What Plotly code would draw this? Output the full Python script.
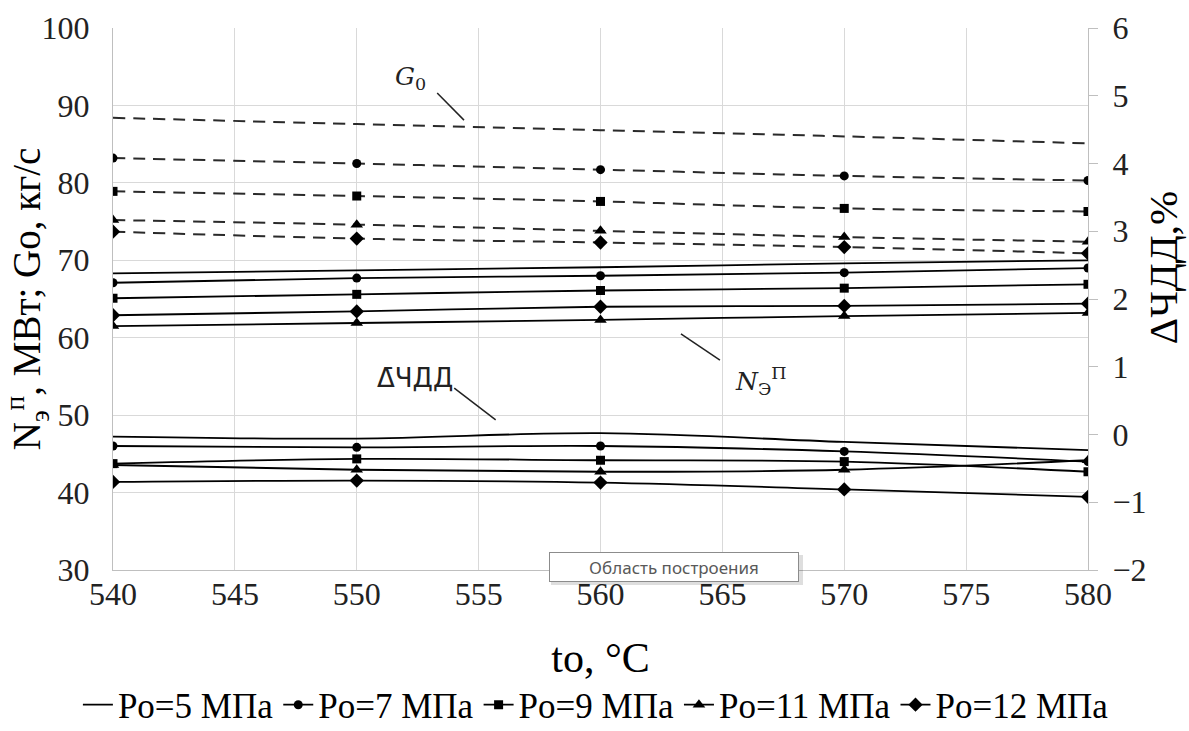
import plotly.graph_objects as go

t = [540, 550, 560, 570, 580]
pressures = ["Po=5 МПа", "Po=7 МПа", "Po=9 МПа", "Po=11 МПа", "Po=12 МПа"]

# Flow rate G0, kg/s (left axis, dashed)
g0_p5 = [88.4, 87.6, 86.8, 86.0, 85.1]
g0_p7 = [83.2, 82.5, 81.7, 80.9, 80.3]
g0_p9 = [78.9, 78.3, 77.6, 76.7, 76.3]
g0_p11 = [75.2, 74.6, 73.8, 73.0, 72.4]
g0_p12 = [73.7, 72.8, 72.3, 71.7, 70.9]

# Power N, MW (left axis, solid)
n_p5 = [68.3, 68.7, 69.1, 69.6, 70.0]
n_p7 = [67.1, 67.7, 68.0, 68.4, 69.0]
n_p9 = [65.1, 65.6, 66.1, 66.4, 66.9]
n_p11 = [61.5, 61.9, 62.3, 62.8, 63.2]
n_p12 = [62.9, 63.4, 64.0, 64.1, 64.4]

# Delta NPV, % (right axis, solid)
d_p5 = [-0.03, -0.06, 0.02, -0.11, -0.23]
d_p7 = [-0.17, -0.19, -0.17, -0.25, -0.40]
d_p9 = [-0.43, -0.36, -0.38, -0.40, -0.55]
d_p11 = [-0.45, -0.52, -0.55, -0.52, -0.38]
d_p12 = [-0.70, -0.68, -0.71, -0.81, -0.92]

g0_all = [g0_p5, g0_p7, g0_p9, g0_p11, g0_p12]
n_all = [n_p5, n_p7, n_p9, n_p11, n_p12]
d_all = [d_p5, d_p7, d_p9, d_p11, d_p12]

symbols = [None, "circle", "square", "triangle-up", "diamond"]
msizes = [0, 9, 9, 11, 11]

serif = "Liberation Serif"

fig = go.Figure()
for i, name in enumerate(pressures):
    mode = "lines" if symbols[i] is None else "lines+markers"
    mk = dict(color="black", size=msizes[i], symbol=symbols[i] or "circle")
    fig.add_trace(go.Scatter(x=t, y=n_all[i], name=name, legendgroup=name, mode=mode,
                             line=dict(color="black", width=1.8, shape="spline"), marker=mk,
                             showlegend=True))
    fig.add_trace(go.Scatter(x=t, y=g0_all[i], name=name, legendgroup=name, mode=mode,
                             line=dict(color="#2a2a2a", width=2, dash="12px,8px", shape="spline"),
                             marker=mk, showlegend=False))
    fig.add_trace(go.Scatter(x=t, y=d_all[i], name=name, legendgroup=name, mode=mode, yaxis="y2",
                             line=dict(color="black", width=1.8, shape="spline"), marker=mk,
                             showlegend=False))

axis_common = dict(showline=True, linecolor="#bfbfbf", linewidth=1, zeroline=False)
tickf = dict(family=serif, size=32, color="#222222")

fig.update_layout(
    width=1189, height=731,
    margin=dict(l=113, r=101, t=28, b=161, autoexpand=False),
    plot_bgcolor="white", paper_bgcolor="white",
    font=dict(family=serif, color="black", size=32),
    xaxis=dict(range=[540, 580], tick0=540, dtick=5, showgrid=True, gridcolor="#d9d9d9",
               ticks="", tickfont=tickf, ticklabelstandoff=-4,
               title=dict(text="tо, °C", font=dict(family=serif, size=42, color="black"), standoff=31),
               **axis_common),
    yaxis=dict(range=[30, 100], tick0=30, dtick=10, showgrid=True, gridcolor="#d9d9d9",
               ticks="", tickfont=tickf, ticklabelstandoff=16,
               title=dict(text="N<sub>э</sub><sup>п</sup>, МВт; Gо, кг/с",
                          font=dict(family=serif, size=39, color="black"), standoff=4),
               **axis_common),
    yaxis2=dict(range=[-2, 6], tick0=-2, dtick=1, overlaying="y", side="right", showgrid=False,
                ticks="outside", ticklen=9, tickcolor="#bfbfbf",
                tickfont=tickf, ticklabelstandoff=8,
                **axis_common),
    legend=dict(orientation="h", xref="paper", x=-0.036, xanchor="left",
                yref="paper", y=-0.249, yanchor="middle", bgcolor="rgba(0,0,0,0)",
                font=dict(family=serif, size=35, color="black"), itemwidth=30,
                tracegroupgap=0),
)

# right axis title placed as rotated text
fig.add_annotation(x=1.077, y=0.557, xref="paper", yref="paper", text="ΔЧДД,%",
                   textangle=-90, showarrow=False, xanchor="center", yanchor="middle",
                   font=dict(family=serif, size=41, color="black"))

ann_font = dict(family="DejaVu Serif", size=25, color="#222222")
fig.add_annotation(x=552.2, y=93.5, xref="x", yref="y", text="<i>G</i><sub>0</sub>",
                   showarrow=False, font=ann_font)
fig.add_annotation(x=552.4, y=54.8, xref="x", yref="y", text="Δ̄ЧДД",
                   showarrow=False, font=dict(family="DejaVu Sans", size=26, color="#222222"))
fig.add_annotation(x=566.6, y=54.4, xref="x", yref="y",
                   text="<i>N</i><sub>Э</sub><sup>П</sup>",
                   showarrow=False, font=ann_font)

leader_lines = [
    (553.3, 91.6, 554.4, 88.1),
    (554.0, 53.5, 555.7, 49.4),
    (563.3, 60.5, 564.9, 57.1),
]
for x0, y0, x1, y1 in leader_lines:
    fig.add_shape(type="line", xref="x", yref="y", x0=x0, y0=y0, x1=x1, y1=y1,
                  line=dict(color="#222222", width=1.5))

# Tooltip box "Область построения" with soft shadow
fig.add_shape(type="rect", xref="paper", yref="paper", x0=0.4492, x1=0.7077, y0=-0.0277, y1=0.0277,
              line=dict(width=0), fillcolor="rgba(0,0,0,0.13)", layer="above")
fig.add_annotation(x=0.5754, y=0.0055, xref="paper", yref="paper", xanchor="center", yanchor="middle",
                   text="Область построения",
                   showarrow=False, width=244, height=24, bgcolor="white",
                   bordercolor="#8c8c8c", borderwidth=1, borderpad=2,
                   font=dict(family="Noto Sans", size=17, color="#595959"))

fig.write_html("out.html", config={"displayModeBar": False},
               post_script="document.body.style.margin='0px';")
